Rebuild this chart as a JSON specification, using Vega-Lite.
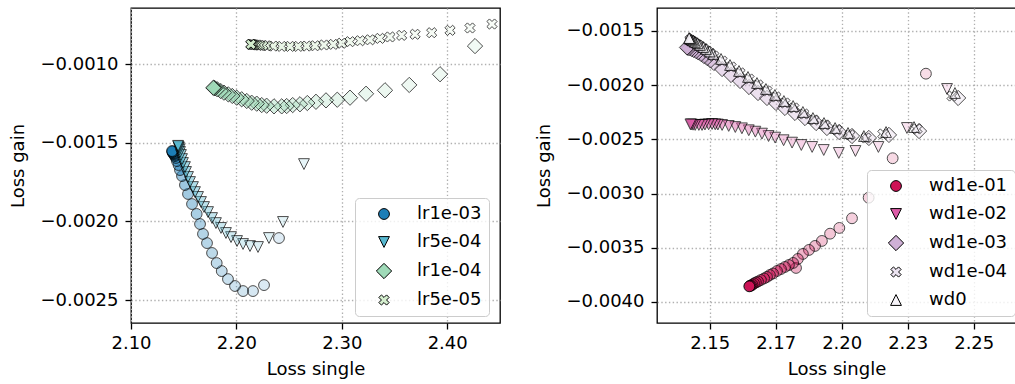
{
  "$schema": "https://vega.github.io/schema/vega-lite/v6.json",
  "padding": {"left": 9, "top": 7, "right": 0, "bottom": 0},
  "spacing": 34,
  "config": {
    "font": "DejaVu Sans",
    "view": {"stroke": "black", "strokeWidth": 1.3},
    "axis": {
      "labelFont": "DejaVu Sans", "labelFontSize": 18, "labelColor": "black",
      "titleFont": "DejaVu Sans", "titleFontSize": 18, "titleFontWeight": "normal", "titleColor": "black",
      "tickColor": "black", "tickSize": 6, "tickWidth": 1.3,
      "domain": false, "labelFlush": false, "labelOverlap": false,
      "grid": true, "gridColor": "#b0b0b0", "gridDash": [1.4, 2.4], "gridWidth": 1.3,
      "labelPadding": 7, "titlePadding": 9, "zindex": 1
    },
    "axisX": {"labelPadding": 5, "titlePadding": 8},
    "axisY": {"titlePadding": 12},
    "legend": {
      "labelFont": "DejaVu Sans", "labelFontSize": 18, "labelColor": "black",
      "symbolSize": 117, "symbolStrokeColor": "black", "symbolStrokeWidth": 1, "symbolOpacity": 1,
      "fillColor": "rgba(255,255,255,0.8)", "strokeColor": "#cccccc", "strokeWidth": 1, "cornerRadius": 4,
      "padding": 7, "rowPadding": 10, "labelOffset": 24, "symbolOffset": 13, "zindex": 2
    }
  },
  "datasets": {
    "lr": [
      {"run": "lr1e-03", "step": 1, "single": 2.2404, "gain": -0.002106},
      {"run": "lr1e-03", "step": 2, "single": 2.2262, "gain": -0.002405},
      {"run": "lr1e-03", "step": 3, "single": 2.2157, "gain": -0.002443},
      {"run": "lr1e-03", "step": 4, "single": 2.2063, "gain": -0.002443},
      {"run": "lr1e-03", "step": 5, "single": 2.1987, "gain": -0.002411},
      {"run": "lr1e-03", "step": 6, "single": 2.1920, "gain": -0.002367},
      {"run": "lr1e-03", "step": 7, "single": 2.1861, "gain": -0.002316},
      {"run": "lr1e-03", "step": 8, "single": 2.1813, "gain": -0.002265},
      {"run": "lr1e-03", "step": 9, "single": 2.1769, "gain": -0.002201},
      {"run": "lr1e-03", "step": 10, "single": 2.1721, "gain": -0.002138},
      {"run": "lr1e-03", "step": 11, "single": 2.1683, "gain": -0.002080},
      {"run": "lr1e-03", "step": 12, "single": 2.1655, "gain": -0.002017},
      {"run": "lr1e-03", "step": 13, "single": 2.1623, "gain": -0.001953},
      {"run": "lr1e-03", "step": 14, "single": 2.1579, "gain": -0.001890},
      {"run": "lr1e-03", "step": 15, "single": 2.1541, "gain": -0.001826},
      {"run": "lr1e-03", "step": 16, "single": 2.1512, "gain": -0.001769},
      {"run": "lr1e-03", "step": 17, "single": 2.1484, "gain": -0.001712},
      {"run": "lr1e-03", "step": 18, "single": 2.1465, "gain": -0.001674},
      {"run": "lr1e-03", "step": 19, "single": 2.1451, "gain": -0.001642},
      {"run": "lr1e-03", "step": 20, "single": 2.1436, "gain": -0.001617},
      {"run": "lr1e-03", "step": 21, "single": 2.1427, "gain": -0.001597},
      {"run": "lr1e-03", "step": 22, "single": 2.1417, "gain": -0.001585},
      {"run": "lr1e-03", "step": 23, "single": 2.1413, "gain": -0.001578},
      {"run": "lr1e-03", "step": 24, "single": 2.1408, "gain": -0.001572},
      {"run": "lr1e-03", "step": 25, "single": 2.1403, "gain": -0.001569},
      {"run": "lr1e-03", "step": 26, "single": 2.1398, "gain": -0.001566},
      {"run": "lr1e-03", "step": 27, "single": 2.1398, "gain": -0.001559},
      {"run": "lr1e-03", "step": 28, "single": 2.1394, "gain": -0.001559},
      {"run": "lr1e-03", "step": 29, "single": 2.1394, "gain": -0.001556},
      {"run": "lr1e-03", "step": 30, "single": 2.1389, "gain": -0.001553},

      {"run": "lr5e-04", "step": 1, "single": 2.2641, "gain": -0.001636},
      {"run": "lr5e-04", "step": 2, "single": 2.2442, "gain": -0.002004},
      {"run": "lr5e-04", "step": 3, "single": 2.2309, "gain": -0.002106},
      {"run": "lr5e-04", "step": 4, "single": 2.2205, "gain": -0.002163},
      {"run": "lr5e-04", "step": 5, "single": 2.2129, "gain": -0.002157},
      {"run": "lr5e-04", "step": 6, "single": 2.2063, "gain": -0.002144},
      {"run": "lr5e-04", "step": 7, "single": 2.2006, "gain": -0.002125},
      {"run": "lr5e-04", "step": 8, "single": 2.1949, "gain": -0.002100},
      {"run": "lr5e-04", "step": 9, "single": 2.1901, "gain": -0.002074},
      {"run": "lr5e-04", "step": 10, "single": 2.1854, "gain": -0.002042},
      {"run": "lr5e-04", "step": 11, "single": 2.1806, "gain": -0.002011},
      {"run": "lr5e-04", "step": 12, "single": 2.1769, "gain": -0.001979},
      {"run": "lr5e-04", "step": 13, "single": 2.1731, "gain": -0.001941},
      {"run": "lr5e-04", "step": 14, "single": 2.1693, "gain": -0.001909},
      {"run": "lr5e-04", "step": 15, "single": 2.1664, "gain": -0.001877},
      {"run": "lr5e-04", "step": 16, "single": 2.1636, "gain": -0.001845},
      {"run": "lr5e-04", "step": 17, "single": 2.1607, "gain": -0.001814},
      {"run": "lr5e-04", "step": 18, "single": 2.1588, "gain": -0.001782},
      {"run": "lr5e-04", "step": 19, "single": 2.1560, "gain": -0.001750},
      {"run": "lr5e-04", "step": 20, "single": 2.1541, "gain": -0.001718},
      {"run": "lr5e-04", "step": 21, "single": 2.1522, "gain": -0.001686},
      {"run": "lr5e-04", "step": 22, "single": 2.1512, "gain": -0.001655},
      {"run": "lr5e-04", "step": 23, "single": 2.1493, "gain": -0.001629},
      {"run": "lr5e-04", "step": 24, "single": 2.1484, "gain": -0.001604},
      {"run": "lr5e-04", "step": 25, "single": 2.1474, "gain": -0.001578},
      {"run": "lr5e-04", "step": 26, "single": 2.1465, "gain": -0.001559},
      {"run": "lr5e-04", "step": 27, "single": 2.1460, "gain": -0.001543},
      {"run": "lr5e-04", "step": 28, "single": 2.1455, "gain": -0.001532},
      {"run": "lr5e-04", "step": 29, "single": 2.1451, "gain": -0.001525},
      {"run": "lr5e-04", "step": 30, "single": 2.1446, "gain": -0.001520},

      {"run": "lr1e-04", "step": 1, "single": 2.4264, "gain": -0.000886},
      {"run": "lr1e-04", "step": 2, "single": 2.3932, "gain": -0.001065},
      {"run": "lr1e-04", "step": 3, "single": 2.3640, "gain": -0.001133},
      {"run": "lr1e-04", "step": 4, "single": 2.3410, "gain": -0.001167},
      {"run": "lr1e-04", "step": 5, "single": 2.3230, "gain": -0.001189},
      {"run": "lr1e-04", "step": 6, "single": 2.3078, "gain": -0.001214},
      {"run": "lr1e-04", "step": 7, "single": 2.2957, "gain": -0.001227},
      {"run": "lr1e-04", "step": 8, "single": 2.2850, "gain": -0.001231},
      {"run": "lr1e-04", "step": 9, "single": 2.2755, "gain": -0.001240},
      {"run": "lr1e-04", "step": 10, "single": 2.2673, "gain": -0.001248},
      {"run": "lr1e-04", "step": 11, "single": 2.2603, "gain": -0.001256},
      {"run": "lr1e-04", "step": 12, "single": 2.2534, "gain": -0.001261},
      {"run": "lr1e-04", "step": 13, "single": 2.2477, "gain": -0.001267},
      {"run": "lr1e-04", "step": 14, "single": 2.2430, "gain": -0.001269},
      {"run": "lr1e-04", "step": 15, "single": 2.2357, "gain": -0.001269},
      {"run": "lr1e-04", "step": 16, "single": 2.2287, "gain": -0.001265},
      {"run": "lr1e-04", "step": 17, "single": 2.2240, "gain": -0.001261},
      {"run": "lr1e-04", "step": 18, "single": 2.2193, "gain": -0.001252},
      {"run": "lr1e-04", "step": 19, "single": 2.2145, "gain": -0.001246},
      {"run": "lr1e-04", "step": 20, "single": 2.2098, "gain": -0.001235},
      {"run": "lr1e-04", "step": 21, "single": 2.2050, "gain": -0.001224},
      {"run": "lr1e-04", "step": 22, "single": 2.2003, "gain": -0.001214},
      {"run": "lr1e-04", "step": 23, "single": 2.1961, "gain": -0.001203},
      {"run": "lr1e-04", "step": 24, "single": 2.1923, "gain": -0.001193},
      {"run": "lr1e-04", "step": 25, "single": 2.1882, "gain": -0.001182},
      {"run": "lr1e-04", "step": 26, "single": 2.1851, "gain": -0.001172},
      {"run": "lr1e-04", "step": 27, "single": 2.1819, "gain": -0.001161},
      {"run": "lr1e-04", "step": 28, "single": 2.1797, "gain": -0.001154},
      {"run": "lr1e-04", "step": 29, "single": 2.1787, "gain": -0.001152},
      {"run": "lr1e-04", "step": 30, "single": 2.1781, "gain": -0.001151},

      {"run": "lr5e-05", "step": 1, "single": 2.4425, "gain": -0.000746},
      {"run": "lr5e-05", "step": 2, "single": 2.4216, "gain": -0.000771},
      {"run": "lr5e-05", "step": 3, "single": 2.4027, "gain": -0.000786},
      {"run": "lr5e-05", "step": 4, "single": 2.3853, "gain": -0.000801},
      {"run": "lr5e-05", "step": 5, "single": 2.3695, "gain": -0.000811},
      {"run": "lr5e-05", "step": 6, "single": 2.3568, "gain": -0.000818},
      {"run": "lr5e-05", "step": 7, "single": 2.3457, "gain": -0.000828},
      {"run": "lr5e-05", "step": 8, "single": 2.3362, "gain": -0.000837},
      {"run": "lr5e-05", "step": 9, "single": 2.3268, "gain": -0.000846},
      {"run": "lr5e-05", "step": 10, "single": 2.3173, "gain": -0.000852},
      {"run": "lr5e-05", "step": 11, "single": 2.3078, "gain": -0.000858},
      {"run": "lr5e-05", "step": 12, "single": 2.2999, "gain": -0.000868},
      {"run": "lr5e-05", "step": 13, "single": 2.2919, "gain": -0.000875},
      {"run": "lr5e-05", "step": 14, "single": 2.2831, "gain": -0.000879},
      {"run": "lr5e-05", "step": 15, "single": 2.2746, "gain": -0.000884},
      {"run": "lr5e-05", "step": 16, "single": 2.2667, "gain": -0.000886},
      {"run": "lr5e-05", "step": 17, "single": 2.2587, "gain": -0.000888},
      {"run": "lr5e-05", "step": 18, "single": 2.2509, "gain": -0.000888},
      {"run": "lr5e-05", "step": 19, "single": 2.2430, "gain": -0.000888},
      {"run": "lr5e-05", "step": 20, "single": 2.2350, "gain": -0.000886},
      {"run": "lr5e-05", "step": 21, "single": 2.2287, "gain": -0.000884},
      {"run": "lr5e-05", "step": 22, "single": 2.2252, "gain": -0.000882},
      {"run": "lr5e-05", "step": 23, "single": 2.2219, "gain": -0.000881},
      {"run": "lr5e-05", "step": 24, "single": 2.2193, "gain": -0.000879},
      {"run": "lr5e-05", "step": 25, "single": 2.2172, "gain": -0.000878},
      {"run": "lr5e-05", "step": 26, "single": 2.2160, "gain": -0.000877},
      {"run": "lr5e-05", "step": 27, "single": 2.2151, "gain": -0.000876},
      {"run": "lr5e-05", "step": 28, "single": 2.2143, "gain": -0.000875},
      {"run": "lr5e-05", "step": 29, "single": 2.2139, "gain": -0.000875},
      {"run": "lr5e-05", "step": 30, "single": 2.2136, "gain": -0.000875}
    ],
    "wd": [
      {"run": "wd1e-01", "step": 1, "single": 2.2319, "gain": -0.001894},
      {"run": "wd1e-01", "step": 2, "single": 2.2193, "gain": -0.002674},
      {"run": "wd1e-01", "step": 3, "single": 2.2102, "gain": -0.003038},
      {"run": "wd1e-01", "step": 4, "single": 2.2039, "gain": -0.003228},
      {"run": "wd1e-01", "step": 5, "single": 2.1991, "gain": -0.003317},
      {"run": "wd1e-01", "step": 6, "single": 2.1956, "gain": -0.003370},
      {"run": "wd1e-01", "step": 7, "single": 2.1925, "gain": -0.003437},
      {"run": "wd1e-01", "step": 8, "single": 2.1899, "gain": -0.003483},
      {"run": "wd1e-01", "step": 9, "single": 2.1876, "gain": -0.003520},
      {"run": "wd1e-01", "step": 10, "single": 2.1853, "gain": -0.003557},
      {"run": "wd1e-01", "step": 11, "single": 2.1827, "gain": -0.003686},
      {"run": "wd1e-01", "step": 12, "single": 2.1834, "gain": -0.003603},
      {"run": "wd1e-01", "step": 13, "single": 2.1816, "gain": -0.003640},
      {"run": "wd1e-01", "step": 14, "single": 2.1800, "gain": -0.003659},
      {"run": "wd1e-01", "step": 15, "single": 2.1785, "gain": -0.003677},
      {"run": "wd1e-01", "step": 16, "single": 2.1770, "gain": -0.003696},
      {"run": "wd1e-01", "step": 17, "single": 2.1755, "gain": -0.003714},
      {"run": "wd1e-01", "step": 18, "single": 2.1740, "gain": -0.003737},
      {"run": "wd1e-01", "step": 19, "single": 2.1728, "gain": -0.003751},
      {"run": "wd1e-01", "step": 20, "single": 2.1717, "gain": -0.003769},
      {"run": "wd1e-01", "step": 21, "single": 2.1706, "gain": -0.003783},
      {"run": "wd1e-01", "step": 22, "single": 2.1694, "gain": -0.003797},
      {"run": "wd1e-01", "step": 23, "single": 2.1683, "gain": -0.003811},
      {"run": "wd1e-01", "step": 24, "single": 2.1675, "gain": -0.003820},
      {"run": "wd1e-01", "step": 25, "single": 2.1668, "gain": -0.003829},
      {"run": "wd1e-01", "step": 26, "single": 2.1662, "gain": -0.003839},
      {"run": "wd1e-01", "step": 27, "single": 2.1658, "gain": -0.003848},
      {"run": "wd1e-01", "step": 28, "single": 2.1654, "gain": -0.003850},
      {"run": "wd1e-01", "step": 29, "single": 2.1651, "gain": -0.003854},
      {"run": "wd1e-01", "step": 30, "single": 2.1650, "gain": -0.003856},

      {"run": "wd1e-02", "step": 1, "single": 2.2399, "gain": -0.002035},
      {"run": "wd1e-02", "step": 2, "single": 2.2247, "gain": -0.002395},
      {"run": "wd1e-02", "step": 3, "single": 2.2139, "gain": -0.002570},
      {"run": "wd1e-02", "step": 4, "single": 2.2052, "gain": -0.002607},
      {"run": "wd1e-02", "step": 5, "single": 2.1989, "gain": -0.002625},
      {"run": "wd1e-02", "step": 6, "single": 2.1932, "gain": -0.002598},
      {"run": "wd1e-02", "step": 7, "single": 2.1888, "gain": -0.002570},
      {"run": "wd1e-02", "step": 8, "single": 2.1847, "gain": -0.002552},
      {"run": "wd1e-02", "step": 9, "single": 2.1812, "gain": -0.002530},
      {"run": "wd1e-02", "step": 10, "single": 2.1780, "gain": -0.002508},
      {"run": "wd1e-02", "step": 11, "single": 2.1748, "gain": -0.002484},
      {"run": "wd1e-02", "step": 12, "single": 2.1723, "gain": -0.002469},
      {"run": "wd1e-02", "step": 13, "single": 2.1698, "gain": -0.002447},
      {"run": "wd1e-02", "step": 14, "single": 2.1673, "gain": -0.002429},
      {"run": "wd1e-02", "step": 15, "single": 2.1648, "gain": -0.002416},
      {"run": "wd1e-02", "step": 16, "single": 2.1622, "gain": -0.002398},
      {"run": "wd1e-02", "step": 17, "single": 2.1597, "gain": -0.002386},
      {"run": "wd1e-02", "step": 18, "single": 2.1572, "gain": -0.002376},
      {"run": "wd1e-02", "step": 19, "single": 2.1547, "gain": -0.002367},
      {"run": "wd1e-02", "step": 20, "single": 2.1531, "gain": -0.002363},
      {"run": "wd1e-02", "step": 21, "single": 2.1521, "gain": -0.002361},
      {"run": "wd1e-02", "step": 22, "single": 2.1509, "gain": -0.002358},
      {"run": "wd1e-02", "step": 23, "single": 2.1496, "gain": -0.002361},
      {"run": "wd1e-02", "step": 24, "single": 2.1482, "gain": -0.002363},
      {"run": "wd1e-02", "step": 25, "single": 2.1471, "gain": -0.002367},
      {"run": "wd1e-02", "step": 26, "single": 2.1459, "gain": -0.002367},
      {"run": "wd1e-02", "step": 27, "single": 2.1445, "gain": -0.002367},
      {"run": "wd1e-02", "step": 28, "single": 2.1437, "gain": -0.002365},
      {"run": "wd1e-02", "step": 29, "single": 2.1431, "gain": -0.002363},
      {"run": "wd1e-02", "step": 30, "single": 2.1427, "gain": -0.002361},

      {"run": "wd1e-03", "step": 1, "single": 2.2441, "gain": -0.002118},
      {"run": "wd1e-03", "step": 2, "single": 2.2293, "gain": -0.002423},
      {"run": "wd1e-03", "step": 3, "single": 2.2179, "gain": -0.002459},
      {"run": "wd1e-03", "step": 4, "single": 2.2103, "gain": -0.002487},
      {"run": "wd1e-03", "step": 5, "single": 2.2039, "gain": -0.002469},
      {"run": "wd1e-03", "step": 6, "single": 2.1990, "gain": -0.002432},
      {"run": "wd1e-03", "step": 7, "single": 2.1944, "gain": -0.002395},
      {"run": "wd1e-03", "step": 8, "single": 2.1903, "gain": -0.002349},
      {"run": "wd1e-03", "step": 9, "single": 2.1861, "gain": -0.002303},
      {"run": "wd1e-03", "step": 10, "single": 2.1823, "gain": -0.002256},
      {"run": "wd1e-03", "step": 11, "single": 2.1785, "gain": -0.002210},
      {"run": "wd1e-03", "step": 12, "single": 2.1751, "gain": -0.002164},
      {"run": "wd1e-03", "step": 13, "single": 2.1717, "gain": -0.002118},
      {"run": "wd1e-03", "step": 14, "single": 2.1683, "gain": -0.002072},
      {"run": "wd1e-03", "step": 15, "single": 2.1649, "gain": -0.002017},
      {"run": "wd1e-03", "step": 16, "single": 2.1615, "gain": -0.001961},
      {"run": "wd1e-03", "step": 17, "single": 2.1581, "gain": -0.001906},
      {"run": "wd1e-03", "step": 18, "single": 2.1547, "gain": -0.001851},
      {"run": "wd1e-03", "step": 19, "single": 2.1516, "gain": -0.001795},
      {"run": "wd1e-03", "step": 20, "single": 2.1503, "gain": -0.001772},
      {"run": "wd1e-03", "step": 21, "single": 2.1490, "gain": -0.001749},
      {"run": "wd1e-03", "step": 22, "single": 2.1478, "gain": -0.001731},
      {"run": "wd1e-03", "step": 23, "single": 2.1467, "gain": -0.001712},
      {"run": "wd1e-03", "step": 24, "single": 2.1456, "gain": -0.001696},
      {"run": "wd1e-03", "step": 25, "single": 2.1448, "gain": -0.001685},
      {"run": "wd1e-03", "step": 26, "single": 2.1439, "gain": -0.001675},
      {"run": "wd1e-03", "step": 27, "single": 2.1431, "gain": -0.001666},
      {"run": "wd1e-03", "step": 28, "single": 2.1423, "gain": -0.001660},
      {"run": "wd1e-03", "step": 29, "single": 2.1418, "gain": -0.001655},
      {"run": "wd1e-03", "step": 30, "single": 2.1414, "gain": -0.001652},

      {"run": "wd1e-04", "step": 1, "single": 2.2418, "gain": -0.002100},
      {"run": "wd1e-04", "step": 2, "single": 2.2285, "gain": -0.002404},
      {"run": "wd1e-04", "step": 3, "single": 2.2156, "gain": -0.002450},
      {"run": "wd1e-04", "step": 4, "single": 2.2092, "gain": -0.002487},
      {"run": "wd1e-04", "step": 5, "single": 2.2031, "gain": -0.002459},
      {"run": "wd1e-04", "step": 6, "single": 2.1982, "gain": -0.002413},
      {"run": "wd1e-04", "step": 7, "single": 2.1937, "gain": -0.002367},
      {"run": "wd1e-04", "step": 8, "single": 2.1895, "gain": -0.002321},
      {"run": "wd1e-04", "step": 9, "single": 2.1857, "gain": -0.002266},
      {"run": "wd1e-04", "step": 10, "single": 2.1819, "gain": -0.002210},
      {"run": "wd1e-04", "step": 11, "single": 2.1785, "gain": -0.002164},
      {"run": "wd1e-04", "step": 12, "single": 2.1751, "gain": -0.002109},
      {"run": "wd1e-04", "step": 13, "single": 2.1717, "gain": -0.002054},
      {"run": "wd1e-04", "step": 14, "single": 2.1683, "gain": -0.001998},
      {"run": "wd1e-04", "step": 15, "single": 2.1649, "gain": -0.001943},
      {"run": "wd1e-04", "step": 16, "single": 2.1615, "gain": -0.001887},
      {"run": "wd1e-04", "step": 17, "single": 2.1581, "gain": -0.001832},
      {"run": "wd1e-04", "step": 18, "single": 2.1547, "gain": -0.001777},
      {"run": "wd1e-04", "step": 19, "single": 2.1516, "gain": -0.001731},
      {"run": "wd1e-04", "step": 20, "single": 2.1503, "gain": -0.001708},
      {"run": "wd1e-04", "step": 21, "single": 2.1490, "gain": -0.001685},
      {"run": "wd1e-04", "step": 22, "single": 2.1478, "gain": -0.001666},
      {"run": "wd1e-04", "step": 23, "single": 2.1467, "gain": -0.001648},
      {"run": "wd1e-04", "step": 24, "single": 2.1458, "gain": -0.001632},
      {"run": "wd1e-04", "step": 25, "single": 2.1448, "gain": -0.001620},
      {"run": "wd1e-04", "step": 26, "single": 2.1441, "gain": -0.001608},
      {"run": "wd1e-04", "step": 27, "single": 2.1435, "gain": -0.001599},
      {"run": "wd1e-04", "step": 28, "single": 2.1430, "gain": -0.001591},
      {"run": "wd1e-04", "step": 29, "single": 2.1427, "gain": -0.001587},
      {"run": "wd1e-04", "step": 30, "single": 2.1425, "gain": -0.001583},

      {"run": "wd0", "step": 1, "single": 2.2429, "gain": -0.002072},
      {"run": "wd0", "step": 2, "single": 2.2274, "gain": -0.002386},
      {"run": "wd0", "step": 3, "single": 2.2168, "gain": -0.002432},
      {"run": "wd0", "step": 4, "single": 2.2084, "gain": -0.002469},
      {"run": "wd0", "step": 5, "single": 2.2024, "gain": -0.002441},
      {"run": "wd0", "step": 6, "single": 2.1975, "gain": -0.002395},
      {"run": "wd0", "step": 7, "single": 2.1933, "gain": -0.002349},
      {"run": "wd0", "step": 8, "single": 2.1891, "gain": -0.002303},
      {"run": "wd0", "step": 9, "single": 2.1853, "gain": -0.002247},
      {"run": "wd0", "step": 10, "single": 2.1816, "gain": -0.002192},
      {"run": "wd0", "step": 11, "single": 2.1781, "gain": -0.002146},
      {"run": "wd0", "step": 12, "single": 2.1747, "gain": -0.002090},
      {"run": "wd0", "step": 13, "single": 2.1713, "gain": -0.002035},
      {"run": "wd0", "step": 14, "single": 2.1679, "gain": -0.001980},
      {"run": "wd0", "step": 15, "single": 2.1645, "gain": -0.001924},
      {"run": "wd0", "step": 16, "single": 2.1611, "gain": -0.001869},
      {"run": "wd0", "step": 17, "single": 2.1577, "gain": -0.001814},
      {"run": "wd0", "step": 18, "single": 2.1543, "gain": -0.001758},
      {"run": "wd0", "step": 19, "single": 2.1513, "gain": -0.001712},
      {"run": "wd0", "step": 20, "single": 2.1499, "gain": -0.001689},
      {"run": "wd0", "step": 21, "single": 2.1486, "gain": -0.001666},
      {"run": "wd0", "step": 22, "single": 2.1475, "gain": -0.001648},
      {"run": "wd0", "step": 23, "single": 2.1463, "gain": -0.001629},
      {"run": "wd0", "step": 24, "single": 2.1454, "gain": -0.001613},
      {"run": "wd0", "step": 25, "single": 2.1444, "gain": -0.001601},
      {"run": "wd0", "step": 26, "single": 2.1437, "gain": -0.001589},
      {"run": "wd0", "step": 27, "single": 2.1431, "gain": -0.001580},
      {"run": "wd0", "step": 28, "single": 2.1427, "gain": -0.001573},
      {"run": "wd0", "step": 29, "single": 2.1423, "gain": -0.001568},
      {"run": "wd0", "step": 30, "single": 2.1422, "gain": -0.001565}
    ]
  },
  "resolve": {"scale": {"color": "independent", "shape": "independent"}},
  "hconcat": [
    {
      "width": 369,
      "height": 315,
      "data": {"name": "lr"},
      "mark": {"type": "point", "filled": true, "size": 117, "stroke": "black", "strokeWidth": 1},
      "encoding": {
        "x": {
          "field": "single", "type": "quantitative",
          "scale": {"domain": [2.1, 2.4501], "nice": false, "zero": false},
          "axis": {"title": "Loss single", "values": [2.1, 2.2, 2.3, 2.4], "format": ".2f"}
        },
        "y": {
          "field": "gain", "type": "quantitative",
          "scale": {"domain": [-0.002646, -0.000644], "nice": false, "zero": false},
          "axis": {"title": "Loss gain", "values": [-0.0025, -0.002, -0.0015, -0.001], "format": ".4f"}
        },
        "color": {
          "field": "run", "type": "nominal",
          "scale": {"domain": ["lr1e-03", "lr5e-04", "lr1e-04", "lr5e-05"], "range": ["#1d7eb7", "#57b8d0", "#9fdab8", "#d4eece"]},
          "legend": {
            "title": null, "orient": "none", "legendX": 224, "legendY": 190,
            "encode": {"symbols": {"update": {"stroke": {"value": "black"}, "strokeWidth": {"value": 1}}}}
          }
        },
        "shape": {
          "field": "run", "type": "nominal",
          "scale": {
            "domain": ["lr1e-03", "lr5e-04", "lr1e-04", "lr5e-05"],
            "range": [
              "circle",
              "M-1,-1L1,-1L0,1Z",
              "M0,-1.414L1.414,0L0,1.414L-1.414,0Z",
              "M0.471,-0.943L0.943,-0.471L0.471,0L0.943,0.471L0.471,0.943L0,0.471L-0.471,0.943L-0.943,0.471L-0.471,0L-0.943,-0.471L-0.471,-0.943L0,-0.471Z"
            ]
          },
          "legend": {
            "title": null, "orient": "none", "legendX": 224, "legendY": 190,
            "encode": {"symbols": {"update": {"stroke": {"value": "black"}, "strokeWidth": {"value": 1}}}}
          }
        },
        "fillOpacity": {
          "field": "step", "type": "quantitative",
          "scale": {"domain": [1, 30], "range": [0.2, 1]},
          "legend": null
        }
      }
    },
    {
      "width": 359,
      "height": 315,
      "data": {"name": "wd"},
      "mark": {"type": "point", "filled": true, "size": 117, "stroke": "black", "strokeWidth": 1},
      "encoding": {
        "x": {
          "field": "single", "type": "quantitative",
          "scale": {"domain": [2.13004, 2.26602], "nice": false, "zero": false},
          "axis": {"title": "Loss single", "values": [2.15, 2.175, 2.2, 2.225, 2.25], "format": ".2f"}
        },
        "y": {
          "field": "gain", "type": "quantitative",
          "scale": {"domain": [-0.004194, -0.001288], "nice": false, "zero": false},
          "axis": {"title": "Loss gain", "values": [-0.004, -0.0035, -0.003, -0.0025, -0.002, -0.0015], "format": ".4f"}
        },
        "color": {
          "field": "run", "type": "nominal",
          "scale": {"domain": ["wd1e-01", "wd1e-02", "wd1e-03", "wd1e-04", "wd0"], "range": ["#ce1256", "#dd5ca8", "#cfb0d6", "#ebe3f0", "#f7f4f9"]},
          "legend": {
            "title": null, "orient": "none", "legendX": 210, "legendY": 162,
            "encode": {"symbols": {"update": {"stroke": {"value": "black"}, "strokeWidth": {"value": 1}}}}
          }
        },
        "shape": {
          "field": "run", "type": "nominal",
          "scale": {
            "domain": ["wd1e-01", "wd1e-02", "wd1e-03", "wd1e-04", "wd0"],
            "range": [
              "circle",
              "M-1,-1L1,-1L0,1Z",
              "M0,-1.414L1.414,0L0,1.414L-1.414,0Z",
              "M0.471,-0.943L0.943,-0.471L0.471,0L0.943,0.471L0.471,0.943L0,0.471L-0.471,0.943L-0.943,0.471L-0.471,0L-0.943,-0.471L-0.471,-0.943L0,-0.471Z",
              "M0,-1L1,1L-1,1Z"
            ]
          },
          "legend": {
            "title": null, "orient": "none", "legendX": 210, "legendY": 162,
            "encode": {"symbols": {"update": {"stroke": {"value": "black"}, "strokeWidth": {"value": 1}}}}
          }
        },
        "fillOpacity": {
          "field": "step", "type": "quantitative",
          "scale": {"domain": [1, 30], "range": [0.2, 1]},
          "legend": null
        }
      }
    }
  ]
}
